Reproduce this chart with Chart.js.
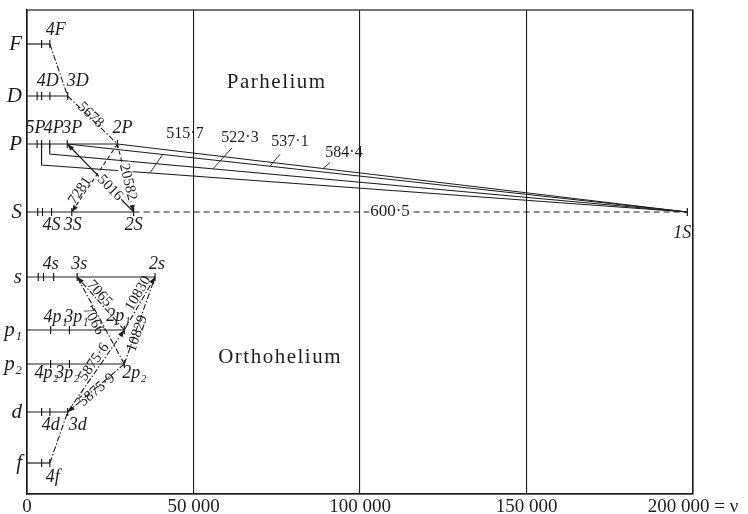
<!DOCTYPE html>
<html>
<head>
<meta charset="utf-8">
<script src="https://cdn.jsdelivr.net/npm/chart.js@4.4.0/dist/chart.umd.min.js"></script>
<style>
  body { margin: 0; background: #fff; }
  #wrap { width: 748px; height: 514px; }
</style>
</head>
<body>
<div id="wrap"><canvas id="heliumChart" width="748" height="514"></canvas></div>
<script>
// term series (rows, top to bottom) and where each row sits on the y scale
const rowNames = ['F', 'D', 'P', 'S', 's', 'p₁', 'p₂', 'd', 'f'];
const rowPos = [34, 86, 134, 202, 267, 320, 354, 402, 453];

// term values in cm-1 for each row, deepest level last
const termsF = [4389, 6858];
const termsD = [3050, 4392, 6864, 12206];
const termsP = [3036, 4368, 6818, 12101, 27176];
const termsS = [3209, 4648, 7371, 13446, 32033];
const terms_s = [3387, 4964, 8013, 15074, 38455];
const termsP1 = [7093, 12746, 29224];
const termsP2 = [7093, 12746, 29223];
const terms_d = [4392, 6866, 12209];
const terms_f = [4389, 6858];
const term1S = 198305;
const rowTerms = [termsF, termsD, termsP, termsS, terms_s, termsP1, termsP2, terms_d, terms_f];

// resonance lines nP -> 1S
const resFrom = [27176, 12101, 6818, 4368];
const resNames = ['584·4', '537·1', '522·3', '515·7'];
const ionLabel = '600·5';

// other transitions: [upper row, term, lower row, term, wavelength label, line style, arrow at end]
const transitions = [
  ['F', 6858, 'D', 12206, '', 'dashdot', false],
  ['D', 12206, 'P', 27176, '5678', 'dashdot', false],
  ['P', 27176, 'S', 13446, '7281', 'dash', true],
  ['S', 32033, 'P', 12101, '5016', 'solid', true],
  ['P', 27176, 'S', 32033, '20582', 'dash', true],
  ['p₁', 29224, 's', 15074, '7065', 'dashdot', true],
  ['p₂', 29223, 's', 15074, '7066', 'dashdot', false],
  ['p₁', 29224, 's', 38455, '10830', 'dashdot', true],
  ['p₂', 29223, 's', 38455, '10829', 'dashdot', false],
  ['d', 12209, 'p₁', 29224, '5875·6', 'dashdot', true],
  ['p₂', 29223, 'd', 12209, '5875·9', 'dashdot', true],
  ['f', 6858, 'd', 12209, '', 'dashdot', false]
];

// level names: [row, term, text]
const levelNames = [
  ['F', 6858, '4F'], ['D', 6864, '4D'], ['D', 12206, '3D'],
  ['P', 4368, '5P'], ['P', 6818, '4P'], ['P', 12101, '3P'], ['P', 27176, '2P'],
  ['S', 7371, '4S'], ['S', 13446, '3S'], ['S', 32033, '2S'], ['S', term1S, '1S'],
  ['s', 8013, '4s'], ['s', 15074, '3s'], ['s', 38455, '2s'],
  ['p₁', 7093, '4p₁'], ['p₁', 12746, '3p₁'], ['p₁', 29224, '2p₁'],
  ['p₂', 7093, '4p₂'], ['p₂', 12746, '3p₂'], ['p₂', 29223, '2p₂'],
  ['d', 6866, '4d'], ['d', 12209, '3d'], ['f', 6858, '4f']
];

// ---- layout only (pixel nudges for the written text) ----
const levelNudge = [
  [6, -14], [-2, -15], [10, -15],
  [-6, -16], [4, -16], [5, -16], [5, -16],
  [0, 13], [1, 13], [0, 13], [-5, 21],
  [-3, -13], [2, -13], [2, -13],
  [5, -13], [7, -13], [-6, -14],
  [-4, 9], [-2, 9], [10, 9],
  [1, 13], [10, 13], [3, 14]
];
const transNudge = [
  [0, 0], [-2, -5], [-14.6, 12.7], [9.5, 10], [2.4, 4],
  [-1.4, -10], [-7.4, 0], [-1.4, -10], [-2.4, 13], [-2, -9], [1, 2], [0, 0]
];
const transBg = [false, false, false, true, true, false, false, false, false, false, false, false];
const resDrop = [0, 0, 10, 21];
const resLeaderAt = [88889, 72973, 55856, 36937];
const resTextOff = [[21, -16], [20, -24], [27, -31], [35, -39]];
const resLeaderOff = [[7, -6], [10, -12], [19, -21], [13, -19]];

const ink = '#1d1d1d';
const serif = '"Liberation Serif", "DejaVu Serif", serif';
const dashes = { solid: [], dash: [4, 3], dashdot: [6, 2, 1.5, 2] };

const rowY = (name) => rowPos[rowNames.indexOf(name)];

const seg = (points, dash, width) => ({
  data: points,
  showLine: true,
  borderColor: ink,
  borderWidth: width || 1.2,
  borderDash: dash || [],
  pointRadius: 0,
  pointHoverRadius: 0,
  fill: false
});

const datasets = [];

// horizontal term rows
rowTerms.forEach((terms, i) => {
  datasets.push(seg([{ x: 0, y: rowPos[i] }, { x: Math.max(...terms), y: rowPos[i] }]));
});
// 2S ... 1S dashed
datasets.push(seg([{ x: Math.max(...termsS), y: rowY('S') }, { x: term1S, y: rowY('S') }], [6, 4], 1));

// level ticks
const tickPts = [];
rowTerms.forEach((terms, i) => terms.forEach(t => tickPts.push({ x: t, y: rowPos[i] })));
tickPts.push({ x: term1S, y: rowY('S') });
datasets.push({
  data: tickPts,
  showLine: false,
  pointStyle: 'line',
  rotation: 90,
  pointRadius: 4,
  pointHoverRadius: 4,
  pointBorderColor: ink,
  pointBorderWidth: 1.2
});

// resonance lines to 1S
resFrom.forEach((t, k) => {
  const pts = [{ x: t, y: rowY('P') }];
  if (resDrop[k]) pts.push({ x: t, y: rowY('P') + resDrop[k] });
  pts.push({ x: term1S, y: rowY('S') });
  datasets.push(seg(pts, [], 1.2));
});

// other transitions
transitions.forEach(tr => {
  datasets.push(seg([{ x: tr[1], y: rowY(tr[0]) }, { x: tr[3], y: rowY(tr[2]) }], dashes[tr[5]], 1.1));
});

const drawText = (ctx, text, x, y, font, angle, bg, spacing) => {
  ctx.save();
  ctx.translate(x, y);
  ctx.rotate(angle || 0);
  ctx.font = font;
  ctx.letterSpacing = spacing || '0px';
  ctx.textAlign = 'center';
  ctx.textBaseline = 'middle';
  if (bg) {
    const w = ctx.measureText(text).width;
    ctx.fillStyle = '#fff';
    ctx.fillRect(-w / 2 - 1, -7, w + 2, 14);
  }
  ctx.fillStyle = ink;
  ctx.fillText(text, 0, 0);
  ctx.restore();
};

const annotate = {
  id: 'annotate',
  afterDatasetsDraw(chart) {
    const ctx = chart.ctx;
    const xs = chart.scales.x, ys = chart.scales.y;
    const X = v => xs.getPixelForValue(v);
    const Y = v => ys.getPixelForValue(v);
    const a = chart.chartArea;

    // frame
    ctx.save();
    ctx.strokeStyle = ink;
    ctx.lineWidth = 1.2;
    ctx.strokeRect(a.left, a.top, a.right - a.left, a.bottom - a.top);
    ctx.restore();

    // transitions: arrows + wavelength labels
    transitions.forEach((tr, i) => {
      const x1 = X(tr[1]), y1 = Y(rowY(tr[0]));
      const x2 = X(tr[3]), y2 = Y(rowY(tr[2]));
      const ang = Math.atan2(y2 - y1, x2 - x1);
      if (tr[6]) {
        ctx.save();
        ctx.translate(x2, y2);
        ctx.rotate(ang);
        ctx.fillStyle = ink;
        ctx.beginPath();
        ctx.moveTo(0, 0);
        ctx.lineTo(-7, -2.6);
        ctx.lineTo(-7, 2.6);
        ctx.closePath();
        ctx.fill();
        ctx.restore();
      }
      if (tr[4]) {
        let t = ang;
        if (t > Math.PI / 2) t -= Math.PI;
        if (t <= -Math.PI / 2) t += Math.PI;
        const mx = (x1 + x2) / 2 + transNudge[i][0];
        const my = (y1 + y2) / 2 + transNudge[i][1];
        drawText(ctx, tr[4], mx, my, '15px ' + serif, t, transBg[i]);
      }
    });

    // level names
    levelNames.forEach((ln, i) => {
      drawText(ctx, ln[2], X(ln[1]) + levelNudge[i][0], Y(rowY(ln[0])) + levelNudge[i][1],
        'italic 18px ' + serif, 0, false);
    });

    // resonance line labels with leaders
    resFrom.forEach((t, k) => {
      const y0 = rowY('P') + resDrop[k];
      const yv = y0 + (rowY('S') - y0) * (resLeaderAt[k] - t) / (term1S - t);
      const tx = X(resLeaderAt[k]), ty = Y(yv);
      ctx.save();
      ctx.strokeStyle = ink;
      ctx.lineWidth = 0.9;
      ctx.beginPath();
      ctx.moveTo(tx, ty);
      ctx.lineTo(tx + resLeaderOff[k][0], ty + resLeaderOff[k][1]);
      ctx.stroke();
      ctx.restore();
      drawText(ctx, resNames[k], tx + resTextOff[k][0], ty + resTextOff[k][1], '16px ' + serif, 0, false);
    });

    // ionisation gap label on the dashed S line
    drawText(ctx, ionLabel, X(109000), Y(rowY('S')), '17px ' + serif, 0, true);

    drawText(ctx, 'Parhelium', X(75000), Y(72), '21px ' + serif, 0, false, '1.5px');
    drawText(ctx, 'Orthohelium', X(76000), Y(347), '21px ' + serif, 0, false, '1.5px');
  }
};

const ctx = document.getElementById('heliumChart').getContext('2d');
const heliumChart = new Chart(ctx, {
  type: 'scatter',
  data: { datasets: datasets },
  options: {
    responsive: false,
    animation: false,
    events: [],
    layout: { padding: { left: 0, right: 55, top: 10, bottom: 0 } },
    plugins: { legend: { display: false }, tooltip: { enabled: false } },
    scales: {
      x: {
        type: 'linear',
        min: 0,
        max: 200000,
        ticks: {
          stepSize: 50000,
          padding: 2,
          color: ink,
          font: { family: serif, size: 19 },
          maxRotation: 0,
          callback: (v) => v === 0 ? '0' : (v === 200000 ? '200 000 = ν' : (v / 1000) + ' 000')
        },
        grid: { color: ink, lineWidth: 1.1, drawTicks: false },
        border: { color: ink, width: 1.2 },
        afterFit: (scale) => { scale.height = 20; }
      },
      y: {
        type: 'linear',
        min: 0,
        max: 484,
        reverse: true,
        afterBuildTicks: (scale) => { scale.ticks = rowPos.map(v => ({ value: v })); },
        ticks: {
          autoSkip: false,
          padding: 5,
          color: ink,
          font: { family: serif, size: 21, style: 'italic', lineHeight: 0.4 },
          callback: (v, i) => rowNames[i]
        },
        grid: { display: false, drawTicks: false },
        border: { color: ink, width: 1.2 },
        afterFit: (scale) => { scale.width = 27; }
      }
    }
  },
  plugins: [annotate]
});
</script>
</body>
</html>
